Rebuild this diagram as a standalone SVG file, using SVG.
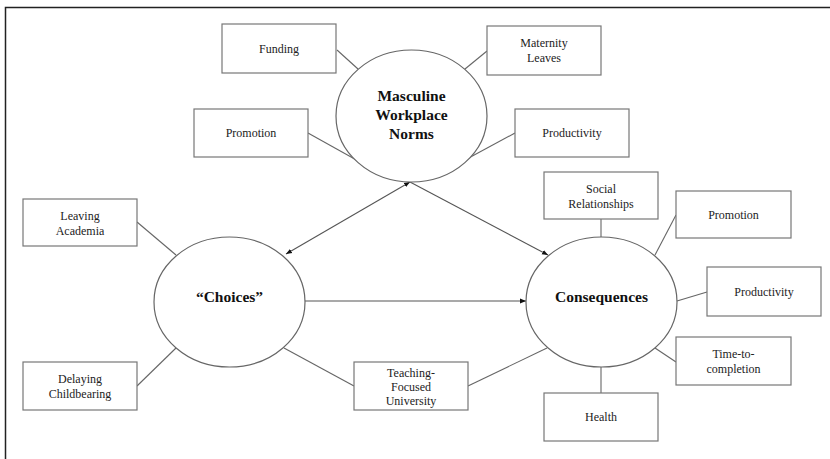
<svg xmlns="http://www.w3.org/2000/svg" width="830" height="459" viewBox="0 0 830 459">
<defs>
<marker id="ah" viewBox="0 0 10 10" refX="10" refY="5" markerWidth="6" markerHeight="6" orient="auto-start-reverse" markerUnits="userSpaceOnUse">
<path d="M0,1 L10,5 L0,9 z" fill="#111"/>
</marker>
<style>
.box{fill:#fff;stroke:#777;stroke-width:1.2}
.ell{fill:#fff;stroke:#666;stroke-width:1.2}
.t{font-family:"Liberation Serif","Times New Roman",serif;font-size:12px;fill:#222;text-anchor:middle}
.b{font-family:"Liberation Serif","Times New Roman",serif;font-size:15.5px;font-weight:bold;fill:#111;text-anchor:middle}
.c{stroke:#666;stroke-width:1.1;fill:none}
.a{stroke:#555;stroke-width:1.1;fill:none}
</style>
</defs>
<rect width="830" height="459" fill="#fff"/>
<path d="M5.5,470 V7.5 H840" fill="none" stroke="#222" stroke-width="1.5"/>
<g id="connectors">
<line class="c" x1="337" y1="50" x2="358" y2="69"/>
<line class="c" x1="487" y1="51" x2="465" y2="69"/>
<line class="c" x1="308" y1="133" x2="360" y2="162"/>
<line class="c" x1="515" y1="133" x2="465" y2="160"/>
<line class="c" x1="137" y1="222" x2="176" y2="255"/>
<line class="c" x1="137" y1="386" x2="176" y2="348"/>
<line class="c" x1="354" y1="386" x2="284" y2="348"/>
<line class="c" x1="468" y1="386" x2="547" y2="348"/>
<line class="c" x1="601" y1="219" x2="601" y2="237"/>
<line class="c" x1="676" y1="215" x2="655" y2="255"/>
<line class="c" x1="707" y1="292" x2="677" y2="301"/>
<line class="c" x1="676" y1="362" x2="655" y2="348"/>
<line class="c" x1="601" y1="367" x2="601" y2="393"/>
<line class="a" x1="286" y1="254" x2="410" y2="182" marker-start="url(#ah)" marker-end="url(#ah)"/>
<line class="a" x1="410" y1="182" x2="548" y2="255" marker-end="url(#ah)"/>
<line class="a" x1="305" y1="301" x2="526" y2="301" marker-end="url(#ah)"/>
</g>
<g id="masculine"><ellipse class="ell" cx="411.5" cy="116" rx="75.5" ry="66"/>
<text class="b" x="411.5" y="101">Masculine</text><text class="b" x="411.5" y="120">Workplace</text><text class="b" x="411.5" y="138.5">Norms</text></g>
<g id="choices"><ellipse class="ell" cx="229.5" cy="302" rx="75.5" ry="65"/><text class="b" x="229.5" y="302">“Choices”</text></g>
<g id="consequences"><ellipse class="ell" cx="601.5" cy="302" rx="75.5" ry="65"/><text class="b" x="601.5" y="302">Consequences</text></g>
<g id="funding"><rect class="box" x="222" y="24" width="114" height="49"/><text class="t" x="279" y="53">Funding</text></g>
<g id="maternity"><rect class="box" x="487" y="26" width="114" height="49"/><text class="t" x="544" y="47">Maternity</text><text class="t" x="544" y="61.5">Leaves</text></g>
<g id="promotion1"><rect class="box" x="194" y="109" width="114" height="48"/><text class="t" x="251" y="137">Promotion</text></g>
<g id="productivity1"><rect class="box" x="515" y="109" width="114" height="48"/><text class="t" x="572" y="137">Productivity</text></g>
<g id="social"><rect class="box" x="544" y="172" width="114" height="47"/><text class="t" x="601" y="193">Social</text><text class="t" x="601" y="207.5">Relationships</text></g>
<g id="promotion2"><rect class="box" x="676" y="191" width="115" height="47"/><text class="t" x="733.5" y="219">Promotion</text></g>
<g id="productivity2"><rect class="box" x="707" y="267" width="114" height="49"/><text class="t" x="764" y="296">Productivity</text></g>
<g id="time"><rect class="box" x="676" y="337" width="115" height="48"/><text class="t" x="733.5" y="358">Time-to-</text><text class="t" x="733.5" y="372.5">completion</text></g>
<g id="health"><rect class="box" x="544" y="393" width="114" height="48"/><text class="t" x="601" y="421">Health</text></g>
<g id="leaving"><rect class="box" x="23" y="199" width="114" height="47"/><text class="t" x="80" y="220">Leaving</text><text class="t" x="80" y="234.5">Academia</text></g>
<g id="delaying"><rect class="box" x="23" y="362" width="114" height="48"/><text class="t" x="80" y="383">Delaying</text><text class="t" x="80" y="397.5">Childbearing</text></g>
<g id="teaching"><rect class="box" x="354" y="362" width="114" height="48"/><text class="t" x="411" y="376.5">Teaching-</text><text class="t" x="411" y="390.5">Focused</text><text class="t" x="411" y="404.5">University</text></g>
</svg>
